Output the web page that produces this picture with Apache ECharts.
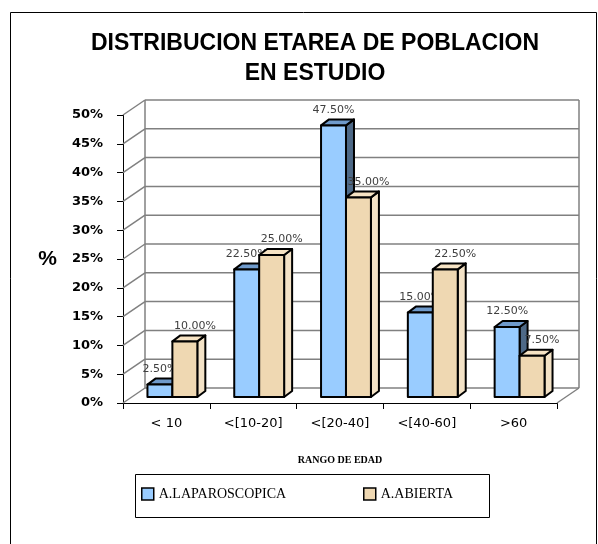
<!DOCTYPE html>
<html><head><meta charset="utf-8">
<script src="https://cdn.jsdelivr.net/npm/echarts@6/dist/echarts.min.js"></script>
<style>html,body{margin:0;padding:0;background:#fff}#c{width:598px;height:544px}</style>
</head><body><div id="c"></div>
<script>
// ---- data ----
const categories = ['< 10', '<[10-20]', '<[20-40]', '<[40-60]', '>60'];
const laparoscopica = [2.5, 22.5, 47.5, 15, 12.5];
const abierta = [10, 25, 35, 22.5, 7.5];
const seriesNames = ['A.LAPAROSCOPICA', 'A.ABIERTA'];
const yTicks = [0, 5, 10, 15, 20, 25, 30, 35, 40, 45, 50];
const titleText = 'DISTRIBUCION ETAREA DE POBLACION\nEN ESTUDIO';
const xAxisName = 'RANGO DE EDAD';
const yAxisName = '%';

// ---- styles ----
const WALL_DX = 22, WALL_DY = -15;
const BAR_DX = 8, BAR_DY = -6;
const blueCols = { front: '#99CCFF', top: '#6F9ACB', side: '#4E6987' };
const beigeCols = { front: '#EFD8B2', top: '#F6E3C4', side: '#F3E2C6' };

function wallsRender(params, api) {
  const cs = params.coordSys;
  const left = cs.x, right = cs.x + cs.width, bottom = cs.y + cs.height;
  const y = api.coord([0, api.value(1)])[1];
  const ls = { stroke: '#808080', lineWidth: 1.5 };
  const children = [
    { type: 'line', shape: { x1: left, y1: y, x2: left + WALL_DX, y2: y + WALL_DY }, style: ls },
    { type: 'line', shape: { x1: left + WALL_DX, y1: y + WALL_DY, x2: right + WALL_DX, y2: y + WALL_DY }, style: ls }
  ];
  if (params.dataIndex === 0) {
    const topY = cs.y + WALL_DY;
    children.push({ type: 'line', shape: { x1: left + WALL_DX, y1: topY, x2: left + WALL_DX, y2: bottom + WALL_DY }, style: ls });
    children.push({ type: 'line', shape: { x1: right + WALL_DX, y1: topY, x2: right + WALL_DX, y2: bottom + WALL_DY }, style: ls });
    children.push({ type: 'line', shape: { x1: right, y1: bottom, x2: right + WALL_DX, y2: bottom + WALL_DY }, style: ls });
  }
  return { type: 'group', children: children };
}

function barRenderer(slot, cols, labelDx) {
  return function (params, api) {
    const ci = api.value(0), v = api.value(1);
    const band = api.size([1, 0])[0];
    const w = band * 25 / 87;
    const shift = band * 6 / 87;
    const c = api.coord([ci, v]);
    const b = api.coord([ci, 0]);
    const x0 = c[0] - w + shift + slot * w;
    const top = c[1] - 4, base = b[1] - 6;
    const st = { stroke: '#000', lineWidth: 2, lineJoin: 'round' };
    return {
      type: 'group',
      children: [
        { type: 'polygon', shape: { points: [[x0 + w, top], [x0 + w + BAR_DX, top + BAR_DY], [x0 + w + BAR_DX, base + BAR_DY], [x0 + w, base]] },
          style: Object.assign({ fill: cols.side }, st) },
        { type: 'polygon', shape: { points: [[x0, top], [x0 + BAR_DX, top + BAR_DY], [x0 + w + BAR_DX, top + BAR_DY], [x0 + w, top]] },
          style: Object.assign({ fill: cols.top }, st) },
        { type: 'rect', shape: { x: x0, y: top, width: w, height: base - top },
          style: Object.assign({ fill: cols.front }, st) },
        { type: 'text', x: x0 + w / 2 + labelDx, y: top + BAR_DY - 4,
          style: { text: v.toFixed(2) + '%', fill: '#404040', font: '11px "DejaVu Sans"', align: 'center', verticalAlign: 'bottom' } }
      ]
    };
  };
}

const legendBase = {
  orient: 'horizontal', top: 487, padding: 0,
  itemWidth: 12, itemHeight: 12,
  textStyle: { fontFamily: 'Liberation Serif', fontSize: 14, color: '#000' }
};

const chart = echarts.init(document.getElementById('c'), null, { renderer: 'canvas' });
chart.setOption({
  backgroundColor: '#fff',
  animation: false,
  title: {
    text: titleText, left: 310, top: 24, textAlign: 'center',
    textStyle: { fontFamily: 'Liberation Sans', fontWeight: 'bold', fontSize: 23, lineHeight: 30, color: '#000' }
  },
  graphic: [
    { type: 'rect', shape: { x: 10.5, y: 12.5, width: 586, height: 545 }, style: { fill: 'none', stroke: '#000', lineWidth: 1 }, silent: true, z: -10 },
    { type: 'rect', shape: { x: 135.5, y: 474.5, width: 354, height: 43 }, style: { fill: 'none', stroke: '#000', lineWidth: 1 }, silent: true, z: -10 }
  ],
  legend: [
    Object.assign({}, legendBase, { left: 141,
      data: [{ name: seriesNames[0], icon: 'rect', itemStyle: { borderColor: '#000', borderWidth: 1.5 } }] }),
    Object.assign({}, legendBase, { left: 363,
      data: [{ name: seriesNames[1], icon: 'rect', itemStyle: { borderColor: '#000', borderWidth: 1.5 } }] })
  ],
  grid: { left: 123, top: 115, width: 434, height: 288 },
  xAxis: {
    type: 'category', data: categories,
    axisLine: { lineStyle: { color: '#000', width: 1 } },
    axisTick: { show: true, length: 6, lineStyle: { color: '#000' } },
    axisLabel: { margin: 14, fontFamily: 'DejaVu Sans', fontSize: 13, color: '#000' },
    name: xAxisName, nameLocation: 'middle', nameGap: 52,
    nameTextStyle: { fontFamily: 'Liberation Serif', fontWeight: 'bold', fontSize: 10, color: '#000' }
  },
  yAxis: {
    type: 'value', min: 0, max: 50, interval: 5,
    axisLine: { show: true, lineStyle: { color: '#000', width: 1 } },
    axisTick: { show: true, length: 6, lineStyle: { color: '#000' } },
    splitLine: { show: false },
    axisLabel: { margin: 20, formatter: '{value}%', fontFamily: 'DejaVu Sans', fontWeight: 'bold', fontSize: 13, color: '#000' },
    name: yAxisName, nameLocation: 'middle', nameRotate: 0, nameGap: 66,
    nameTextStyle: { fontFamily: 'Liberation Sans', fontWeight: 'bold', fontSize: 21, color: '#000' }
  },
  series: [
    { type: 'custom', name: '_walls', silent: true, clip: false, z: 1,
      data: yTicks.map(v => [0, v]), encode: { x: 0, y: 1 }, renderItem: wallsRender },
    { type: 'custom', name: seriesNames[0], clip: false, z: 3, itemStyle: { color: blueCols.front },
      data: laparoscopica.map((v, i) => [i, v]), encode: { x: 0, y: 1 }, renderItem: barRenderer(0, blueCols, 0) },
    { type: 'custom', name: seriesNames[1], clip: false, z: 4, itemStyle: { color: beigeCols.front },
      data: abierta.map((v, i) => [i, v]), encode: { x: 0, y: 1 }, renderItem: barRenderer(1, beigeCols, 10) }
  ]
});
</script></body></html>
